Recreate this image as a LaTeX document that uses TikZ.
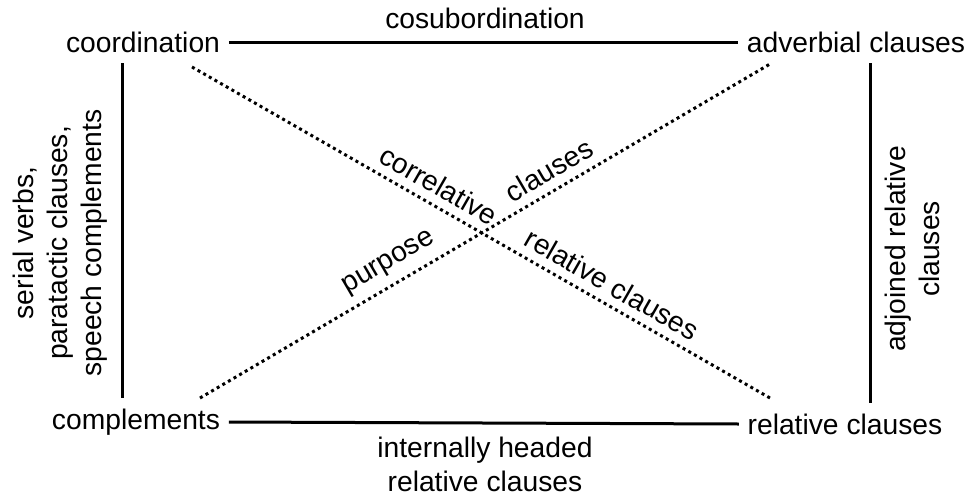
\documentclass[tikz,border=0pt]{standalone}
\usepackage{fontspec}
\setmainfont{Liberation Sans}
\usepackage{tikz}

\tikzset{
  every node/.style={font=\fontsize{11.3}{13.6}\selectfont},
  solidline/.style={line width=1.2pt},
  dotline/.style={line width=1.2pt, dash pattern=on 1.2pt off 1.4pt},
}

\begin{document}
\begin{tikzpicture}[x=0.4pt, y=-0.4pt]
    % Fix the page to the picture's frame
    \useasboundingbox (0,0) rectangle (968,494);

    % Corner types
    \node (Coord) at (143,42) {coordination};
    \node (Adv) at (856,42) {adverbial clauses};
    \node (Compl) at (136,422) {complements};
    \node (Rel) at (845,424) {relative clauses};

    % Edge labels
    \node (Cosub) at (485,18) {cosubordination};
    \node[align=center] (Ihrc) at (485,464) {internally headed\\relative clauses};
    \node[rotate=90, align=center] (Serial) at (60,243) {serial verbs,\\paratactic clauses,\\speech complements};
    \node[rotate=90, align=center] (Adjoined) at (912,249) {adjoined relative\\clauses};

    % Ends of the side and diagonal lines
    \coordinate (L1) at (122,63);
    \coordinate (L2) at (122,398);
    \coordinate (R1) at (870,63);
    \coordinate (R2) at (870,403);
    \coordinate (D1) at (192,67);
    \coordinate (D2) at (770,398);
    \coordinate (E1) at (200,398);
    \coordinate (E2) at (770,64);

    % Solid sides
    \draw[solidline] (Coord.east) -- (Adv.west);
    \draw[solidline] (Compl.east) -- (Rel.west);
    \draw[solidline] (L1) -- (L2);
    \draw[solidline] (R1) -- (R2);

    % Dotted diagonals
    \draw[dotline] (D1) -- node[sloped, above, pos=0.41] (Correl) {correlative}
                          node[sloped, above, pos=0.71] (RelCl) {relative clauses} (D2);
    \draw[dotline] (E1) -- node[sloped, above, pos=0.35] (Purp) {purpose}
                          node[sloped, above, pos=0.63] (Claus) {clauses} (E2);
\end{tikzpicture}
\end{document}
